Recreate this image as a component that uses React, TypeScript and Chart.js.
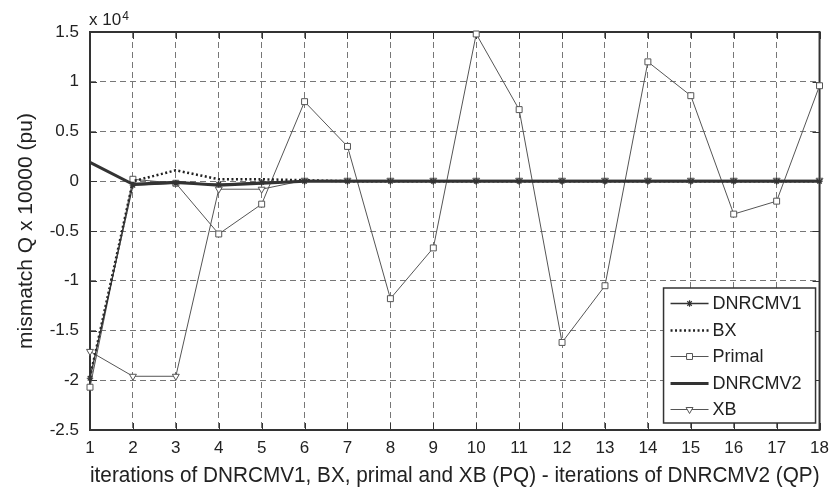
import React, { useEffect, useRef } from "react";
import { Chart, registerables } from "chart.js";
import { drawPoint } from "chart.js/helpers";

Chart.register(...registerables);

// ---- data (values in units of 10^4) ----
const ITERATIONS = [1, 2, 3, 4, 5, 6, 7, 8, 9, 10, 11, 12, 13, 14, 15, 16, 17, 18];
const DNRCMV1 = [-1.98, -0.04, -0.02, -0.03, -0.01, 0, 0, 0, 0, 0, 0, 0, 0, 0, 0, 0, 0, 0];
const BX = [-1.97, 0.0, 0.11, 0.02, 0.02, 0.01, 0, 0, 0, 0, 0, 0, 0, 0, 0, 0, 0, 0];
const PRIMAL = [-2.07, 0.02, -0.02, -0.53, -0.23, 0.8, 0.35, -1.18, -0.67, 1.48, 0.72, -1.62, -1.05, 1.2, 0.86, -0.33, -0.2, 0.96];
const DNRCMV2 = [0.19, -0.03, -0.01, -0.04, -0.02, 0, 0, 0, 0, 0, 0, 0, 0, 0, 0, 0, 0, 0];
const XB = [-1.71, -1.96, -1.96, -0.08, -0.08, 0.01, 0.01, 0.01, 0.01, 0.01, 0.01, 0.01, 0.01, 0.01, 0.01, 0.01, 0.01, 0.01];

const SERIES_NAMES = ["DNRCMV1", "BX", "Primal", "DNRCMV2", "XB"];
const Y_MIN = -2.5;
const Y_MAX = 1.5;
const Y_STEP = 0.5;
const X_TITLE = "iterations of DNRCMV1, BX, primal and XB (PQ) - iterations of DNRCMV2 (QP)";
const Y_TITLE = "mismatch Q x 10000 (pu)";
const EXP_BASE = "x 10";
const EXP_POWER = "4";

const FONT = "'Liberation Sans', Arial, Helvetica, sans-serif";
const TEXT = "#222";

const toPoints = (ys: number[]) => ITERATIONS.map((x, i) => ({ x, y: ys[i] }));

const framePlugin = {
  id: "matlabFrame",
  beforeDatasetsDraw(chart: any) {
    const { ctx, chartArea, scales } = chart;
    const { left, right, top, bottom } = chartArea;
    ctx.save();
    ctx.strokeStyle = "#333";
    ctx.lineWidth = 1;
    ctx.setLineDash([]);
    const tl = 7;
    ctx.beginPath();
    for (const v of ITERATIONS) {
      const x = Math.round(scales.x.getPixelForValue(v)) + 0.5;
      ctx.moveTo(x, bottom);
      ctx.lineTo(x, bottom - tl);
      ctx.moveTo(x, top);
      ctx.lineTo(x, top + tl);
    }
    for (let v = Y_MIN; v <= Y_MAX + 1e-9; v += Y_STEP) {
      const y = Math.round(scales.y.getPixelForValue(v)) + 0.5;
      ctx.moveTo(left, y);
      ctx.lineTo(left + tl, y);
      ctx.moveTo(right, y);
      ctx.lineTo(right - tl, y);
    }
    ctx.stroke();
    ctx.lineWidth = 2;
    ctx.strokeRect(left, top, right - left, bottom - top);
    // exponent label
    ctx.fillStyle = TEXT;
    ctx.textBaseline = "alphabetic";
    ctx.textAlign = "left";
    ctx.font = `17px ${FONT}`;
    ctx.fillText(EXP_BASE, left - 1, top - 7);
    const w = ctx.measureText(EXP_BASE).width;
    ctx.font = `12px ${FONT}`;
    ctx.fillText(EXP_POWER, left - 1 + w + 1, top - 12);
    ctx.restore();
  },
};

const legendPlugin = {
  id: "boxLegend",
  afterDraw(chart: any) {
    const { ctx, chartArea } = chart;
    const w = 152;
    const h = 135;
    const right = chartArea.right - 4;
    const bottom = chartArea.bottom - 7;
    const left = right - w;
    const top = bottom - h;
    ctx.save();
    ctx.fillStyle = "#fff";
    ctx.fillRect(left, top, w, h);
    ctx.strokeStyle = "#333";
    ctx.lineWidth = 1.5;
    ctx.setLineDash([]);
    ctx.strokeRect(left, top, w, h);
    const rowH = 26.5;
    const y0 = top + 15;
    chart.data.datasets.forEach((ds: any, i: number) => {
      const y = Math.round(y0 + i * rowH) + 0.5;
      const x1 = left + 7;
      const x2 = left + 45;
      ctx.save();
      ctx.strokeStyle = ds.borderColor;
      ctx.lineWidth = ds.borderWidth;
      ctx.setLineDash(ds.borderDash || []);
      ctx.beginPath();
      ctx.moveTo(x1, y);
      ctx.lineTo(x2, y);
      ctx.stroke();
      ctx.restore();
      if (ds.pointRadius > 0) {
        ctx.save();
        ctx.setLineDash([]);
        ctx.strokeStyle = ds.pointBorderColor;
        ctx.fillStyle = ds.pointBackgroundColor;
        ctx.lineWidth = ds.pointBorderWidth;
        drawPoint(
          ctx,
          {
            pointStyle: ds.pointStyle,
            radius: ds.pointRadius,
            rotation: ds.pointRotation || 0,
            borderWidth: ds.pointBorderWidth,
          } as any,
          (x1 + x2) / 2,
          y
        );
        ctx.restore();
      }
      ctx.fillStyle = TEXT;
      ctx.font = `18px ${FONT}`;
      ctx.textBaseline = "middle";
      ctx.textAlign = "left";
      ctx.fillText(ds.label, x2 + 4, y + 1);
    });
    ctx.restore();
  },
};

export default function App() {
  const canvasRef = useRef<HTMLCanvasElement | null>(null);

  useEffect(() => {
    document.body.style.margin = "0";
    const canvas = canvasRef.current;
    if (!canvas) return;
    const chart = new Chart(canvas, {
      type: "line",
      data: {
        datasets: [
          {
            label: SERIES_NAMES[0],
            data: toPoints(DNRCMV1),
            borderColor: "#333",
            borderWidth: 1.3,
            pointStyle: "star",
            pointRadius: 3.2,
            pointBorderColor: "#333",
            pointBackgroundColor: "#333",
            pointBorderWidth: 1.2,
            order: 1,
            clip: false as any,
          },
          {
            label: SERIES_NAMES[1],
            data: toPoints(BX),
            borderColor: "#222",
            borderWidth: 2.5,
            borderDash: [2, 2.5],
            pointRadius: 0,
            order: 2,
            clip: false as any,
          },
          {
            label: SERIES_NAMES[2],
            data: toPoints(PRIMAL),
            borderColor: "#555",
            borderWidth: 1,
            pointStyle: "rect",
            pointRadius: 4.2,
            pointBorderColor: "#555",
            pointBackgroundColor: "#fff",
            pointBorderWidth: 1,
            order: 4,
            clip: false as any,
          },
          {
            label: SERIES_NAMES[3],
            data: toPoints(DNRCMV2),
            borderColor: "#333",
            borderWidth: 3,
            pointRadius: 0,
            order: 0,
            clip: false as any,
          },
          {
            label: SERIES_NAMES[4],
            data: toPoints(XB),
            borderColor: "#555",
            borderWidth: 1,
            pointStyle: "triangle",
            pointRotation: 180,
            pointRadius: 4,
            pointBorderColor: "#555",
            pointBackgroundColor: "#fff",
            pointBorderWidth: 1,
            order: 3,
            clip: false as any,
          },
        ] as any,
      },
      options: {
        animation: false,
        responsive: false,
        events: [],
        layout: { padding: { top: 32, right: 11, left: 0, bottom: 0 } },
        elements: { line: { tension: 0 } },
        plugins: {
          legend: { display: false },
          tooltip: { enabled: false },
        },
        scales: {
          x: {
            type: "linear",
            min: 1,
            max: 18,
            afterFit: (s: any) => {
              s.height = 64;
            },
            afterBuildTicks: (s: any) => {
              s.ticks = ITERATIONS.map((v) => ({ value: v }));
            },
            ticks: {
              autoSkip: false,
              maxRotation: 0,
              padding: 8,
              color: TEXT,
              font: { family: FONT, size: 17 },
              callback: (v: any) => String(v),
            },
            grid: { color: "#777", lineWidth: 1, drawTicks: false },
            border: { display: false, dash: [6, 4] },
            title: {
              display: true,
              text: X_TITLE,
              color: TEXT,
              font: { family: FONT, size: 21.5 },
              padding: { top: 0, bottom: 5 },
            },
          },
          y: {
            type: "linear",
            min: Y_MIN,
            max: Y_MAX,
            afterFit: (s: any) => {
              s.width = 90;
            },
            ticks: {
              stepSize: Y_STEP,
              padding: 11,
              color: TEXT,
              font: { family: FONT, size: 17 },
              callback: (v: any) => String(Math.round(Number(v) * 10) / 10),
            },
            grid: { color: "#777", lineWidth: 1, drawTicks: false },
            border: { display: false, dash: [6, 4] },
            title: {
              display: true,
              text: Y_TITLE,
              color: TEXT,
              font: { family: FONT, size: 21 },
              padding: { top: 14, bottom: 0 },
            },
          },
        },
      } as any,
      plugins: [framePlugin, legendPlugin],
    });
    return () => chart.destroy();
  }, []);

  return (
    <div style={{ width: 837, height: 494, background: "#fff" }}>
      <canvas ref={canvasRef} width={837} height={494} style={{ display: "block" }} />
    </div>
  );
}
